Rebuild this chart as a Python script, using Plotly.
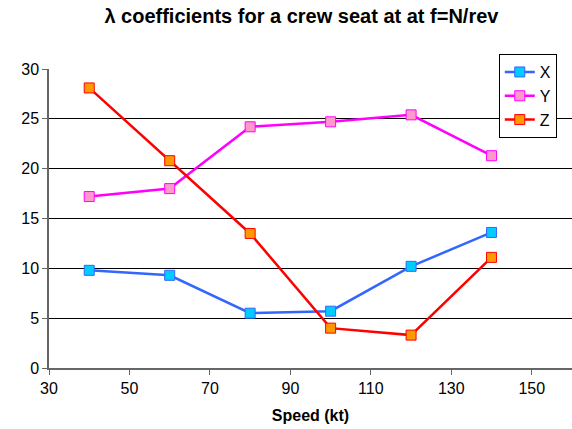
import plotly.graph_objects as go

speed = [40, 60, 80, 100, 120, 140]
x_vals = [9.8, 9.3, 5.5, 5.7, 10.2, 13.6]
y_vals = [17.2, 18.0, 24.2, 24.7, 25.4, 21.3]
z_vals = [28.1, 20.8, 13.5, 4.0, 3.3, 11.1]

series = [
    ("X", x_vals, "#3366FF", "#00CCFF"),
    ("Y", y_vals, "#FF00FF", "#FF99CC"),
    ("Z", z_vals, "#FF0000", "#FF9900"),
]

fig = go.Figure()
for name, vals, line_c, fill_c in series:
    fig.add_trace(go.Scatter(
        x=speed, y=vals, name=name, mode="lines+markers", legendgroup=name,
        line=dict(color=line_c, width=2.5),
        marker=dict(symbol="square", size=10, color=fill_c,
                    line=dict(color=line_c, width=1)),
        cliponaxis=False,
    ))

font = "Liberation Sans, Arial, sans-serif"
fig.update_layout(
    width=572, height=429,
    margin=dict(l=48.5, r=0, t=69.3, b=61.3, autoexpand=False),
    paper_bgcolor="white", plot_bgcolor="white",
    font=dict(family=font, size=16, color="black"),
    title=dict(text="<b>λ coefficients for a crew seat at at f=N/rev</b>",
               x=0.527, xanchor="center", y=0.962, yanchor="middle",
               font=dict(size=20)),
    showlegend=True,
    legend=dict(x=0.86, y=1.05, xanchor="left", yanchor="top",
                bordercolor="black", borderwidth=1, bgcolor="white",
                font=dict(size=16), itemwidth=30, tracegroupgap=0),
    xaxis=dict(range=[30, 160], tickvals=[30, 50, 70, 90, 110, 130, 150],
               showgrid=False, zeroline=False, showline=True,
               linecolor="#666666", linewidth=1.5,
               ticks="outside", ticklen=5, tickcolor="#666666",
               tickfont=dict(size=16),
               title=dict(text="<b>Speed (kt)</b>", font=dict(size=16), standoff=14)),
    yaxis=dict(range=[0, 30], tickvals=[0, 5, 10, 15, 20, 25, 30],
               showgrid=True, gridcolor="black", gridwidth=1,
               zeroline=False, showline=True,
               linecolor="#666666", linewidth=1.5,
               ticks="outside", ticklen=5, tickcolor="#666666",
               tickfont=dict(size=16)),
)

fig.write_html("out.html", config={"displayModeBar": False},
               post_script="document.body.style.margin='0';")
